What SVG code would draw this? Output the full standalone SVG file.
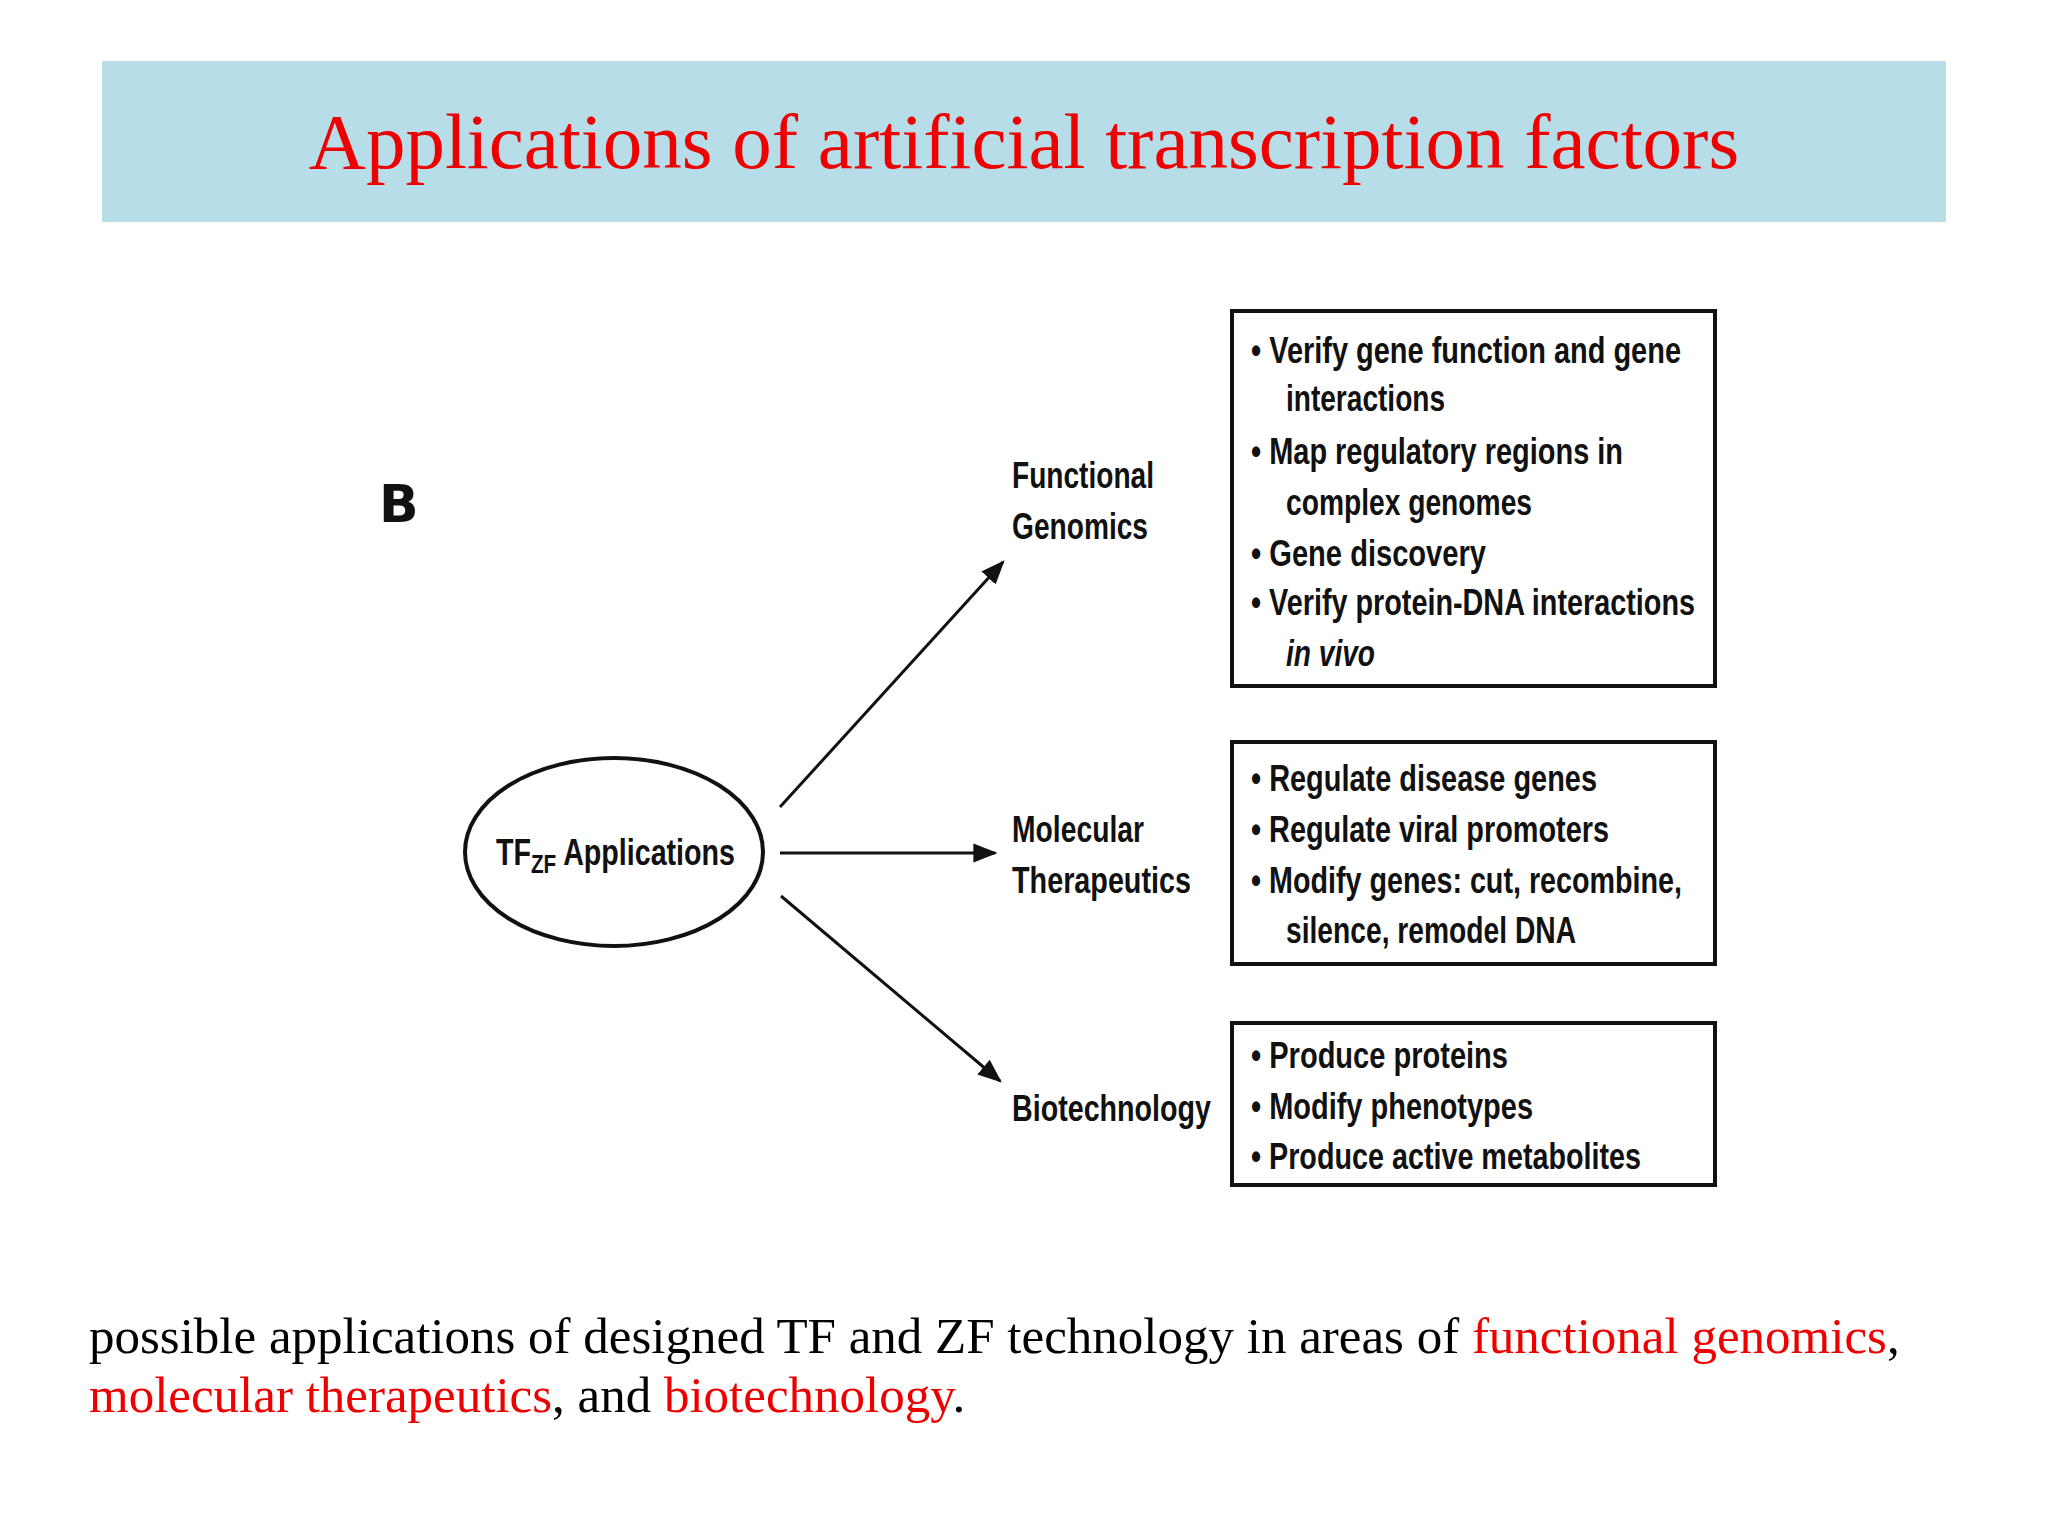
<svg xmlns="http://www.w3.org/2000/svg" width="2048" height="1536" viewBox="0 0 2048 1536">
<style>
.lbl{font-family:"Liberation Sans",Arial,sans-serif;font-weight:bold;font-size:36px;fill:#111}
.bx{fill:#fff;stroke:#111;stroke-width:4}
.cap{font-family:"Liberation Serif",serif;font-size:51px;fill:#000}
.red{fill:#e00}
</style>
<defs>
<marker id="a" viewBox="0 0 10 10" refX="9" refY="5" markerWidth="8" markerHeight="8" orient="auto"><path d="M0,1L10,5L0,9z" fill="#111"/></marker>
</defs>
<rect width="2048" height="1536" fill="#fff"/>
<g id="header">
<rect x="102" y="61" width="1844" height="161" fill="#b7dee8"/>
<text x="1024" y="168" text-anchor="middle" font-family="Liberation Serif,serif" font-size="79" fill="#e00">Applications of artificial transcription factors</text>
</g>
<text x="379" y="522" font-family="DejaVu Sans,sans-serif" font-weight="bold" font-size="52" fill="#111">B</text>
<g id="center">
<ellipse cx="614" cy="852" rx="149" ry="94" fill="#fff" stroke="#111" stroke-width="4"/>
<text x="496" y="865" class="lbl" textLength="239" lengthAdjust="spacingAndGlyphs">TF<tspan font-size="26" dy="8">ZF</tspan><tspan dy="-8"> Applications</tspan></text>
</g>
<g id="connectors" stroke="#111" stroke-width="3" fill="none">
<line x1="780" y1="807" x2="1003" y2="562" marker-end="url(#a)"/>
<line x1="780" y1="853" x2="995" y2="853" marker-end="url(#a)"/>
<line x1="781" y1="896" x2="1000" y2="1081" marker-end="url(#a)"/>
</g>
<g id="fg">
<text x="1012" y="488" class="lbl" textLength="142" lengthAdjust="spacingAndGlyphs">Functional</text>
<text x="1012" y="539" class="lbl" textLength="136" lengthAdjust="spacingAndGlyphs">Genomics</text>
<rect x="1232" y="311" width="483" height="375" class="bx"/>
<g class="lbl">
<text x="1251" y="363" textLength="430" lengthAdjust="spacingAndGlyphs">• Verify gene function and gene</text>
<text x="1286" y="411" textLength="159" lengthAdjust="spacingAndGlyphs">interactions</text>
<text x="1251" y="464" textLength="372" lengthAdjust="spacingAndGlyphs">• Map regulatory regions in</text>
<text x="1286" y="515" textLength="246" lengthAdjust="spacingAndGlyphs">complex genomes</text>
<text x="1251" y="566" textLength="235" lengthAdjust="spacingAndGlyphs">• Gene discovery</text>
<text x="1251" y="615" textLength="444" lengthAdjust="spacingAndGlyphs">• Verify protein-DNA interactions</text>
<text x="1286" y="666" textLength="89" lengthAdjust="spacingAndGlyphs" font-style="italic">in vivo</text>
</g>
</g>
<g id="mt">
<text x="1012" y="842" class="lbl" textLength="132" lengthAdjust="spacingAndGlyphs">Molecular</text>
<text x="1012" y="893" class="lbl" textLength="179" lengthAdjust="spacingAndGlyphs">Therapeutics</text>
<rect x="1232" y="742" width="483" height="222" class="bx"/>
<g class="lbl">
<text x="1251" y="791" textLength="346" lengthAdjust="spacingAndGlyphs">• Regulate disease genes</text>
<text x="1251" y="842" textLength="358" lengthAdjust="spacingAndGlyphs">• Regulate viral promoters</text>
<text x="1251" y="893" textLength="431" lengthAdjust="spacingAndGlyphs">• Modify genes: cut, recombine,</text>
<text x="1286" y="943" textLength="290" lengthAdjust="spacingAndGlyphs">silence, remodel DNA</text>
</g>
</g>
<g id="bt">
<text x="1012" y="1121" class="lbl" textLength="199" lengthAdjust="spacingAndGlyphs">Biotechnology</text>
<rect x="1232" y="1023" width="483" height="162" class="bx"/>
<g class="lbl">
<text x="1251" y="1068" textLength="257" lengthAdjust="spacingAndGlyphs">• Produce proteins</text>
<text x="1251" y="1119" textLength="282" lengthAdjust="spacingAndGlyphs">• Modify phenotypes</text>
<text x="1251" y="1169" textLength="390" lengthAdjust="spacingAndGlyphs">• Produce active metabolites</text>
</g>
</g>
<g id="caption">
<text x="89" y="1353" class="cap">possible applications of designed TF and ZF technology in areas of <tspan class="red">functional genomics</tspan>,</text>
<text x="89" y="1412" class="cap"><tspan class="red">molecular therapeutics</tspan>, and <tspan class="red">biotechnology</tspan>.</text>
</g>
</svg>
